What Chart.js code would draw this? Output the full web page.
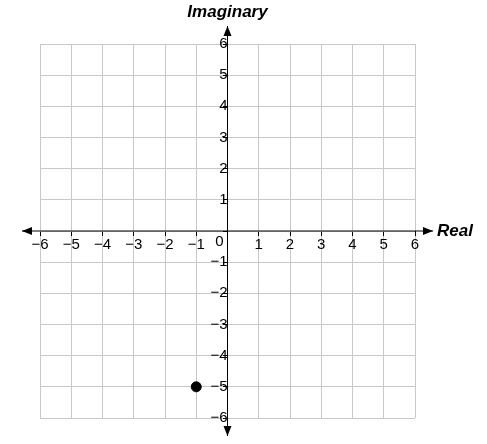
<!DOCTYPE html>
<html>
<head>
<meta charset="utf-8">
<script src="https://cdn.jsdelivr.net/npm/chart.js@4"></script>
<style>
  html, body { margin: 0; padding: 0; background: #fff; }
  #wrap { width: 487px; height: 444px; }
</style>
</head>
<body>
<div id="wrap"><canvas id="plano"></canvas></div>
<script>
// dados do gráfico
const tickValues = [-6, -5, -4, -3, -2, -1, 0, 1, 2, 3, 4, 5, 6];
const pointReal = [-1];
const pointImag = [-5];
const xTitle = 'Real';
const yTitle = 'Imaginary';

const FONT = '"Liberation Sans", Arial, sans-serif';
const fmt = v => v === 0 ? '' : (v < 0 ? '\u2212' + Math.abs(v) : String(v));

// eixos com setas, títulos e o "0" da origem
const eixosPlugin = {
  id: 'eixos',
  afterDraw(chart) {
    const c = chart.ctx;
    const x = chart.scales.x, y = chart.scales.y;
    const ox = x.getPixelForValue(0), oy = y.getPixelForValue(0);
    const left = x.left - 18, right = x.right + 18;
    const top = y.top - 18, bottom = y.bottom + 18;
    c.save();
    c.strokeStyle = '#000';
    c.fillStyle = '#000';
    c.lineWidth = 1;
    c.beginPath();
    c.moveTo(left, oy); c.lineTo(right, oy);
    c.moveTo(ox, top); c.lineTo(ox, bottom);
    c.stroke();
    const seta = (px, py, dx, dy) => {
      c.beginPath();
      c.moveTo(px, py);
      c.lineTo(px - dx * 10 - dy * 4, py - dy * 10 - dx * 4);
      c.lineTo(px - dx * 10 + dy * 4, py - dy * 10 + dx * 4);
      c.closePath();
      c.fill();
    };
    seta(right, oy, 1, 0);
    seta(left, oy, -1, 0);
    seta(ox, top, 0, -1);
    seta(ox, bottom, 0, 1);
    c.font = 'italic bold 17px ' + FONT;
    c.textBaseline = 'middle';
    c.textAlign = 'left';
    c.fillText(xTitle, right + 4, oy);
    c.textAlign = 'center';
    c.fillText(yTitle, ox, 12);
    c.font = '15px ' + FONT;
    c.fillText('0', ox - 8, oy + 11);
    c.restore();
  }
};

const ticksCfg = {
  stepSize: 1,
  autoSkip: false,
  color: '#000',
  font: { family: FONT, size: 15 },
  callback: v => fmt(v)
};

new Chart(document.getElementById('plano'), {
  type: 'scatter',
  data: {
    datasets: [{
      data: pointReal.map((r, i) => ({ x: r, y: pointImag[i] })),
      backgroundColor: '#000',
      borderColor: '#000',
      pointRadius: 5
    }]
  },
  options: {
    responsive: true,
    maintainAspectRatio: false,
    animation: false,
    layout: { padding: { left: 40, right: 72, top: 44, bottom: 26 } },
    plugins: { legend: { display: false }, tooltip: { enabled: false } },
    scales: {
      x: {
        type: 'linear', min: -6, max: 6,
        position: { y: 0 },
        afterBuildTicks: s => { s.ticks = tickValues.map(v => ({ value: v })); },
        ticks: { ...ticksCfg, padding: 0 },
        grid: { color: '#c8c8c8', tickColor: '#000', tickLength: 5, drawTicks: true },
        border: { display: false }
      },
      y: {
        type: 'linear', min: -6, max: 6,
        position: { x: 0 },
        afterBuildTicks: s => { s.ticks = tickValues.map(v => ({ value: v })); },
        ticks: { ...ticksCfg, padding: 1 },
        grid: { color: '#c8c8c8', tickColor: '#000', tickLength: 5, drawTicks: true },
        border: { display: false }
      }
    }
  },
  plugins: [eixosPlugin]
});
</script>
</body>
</html>
